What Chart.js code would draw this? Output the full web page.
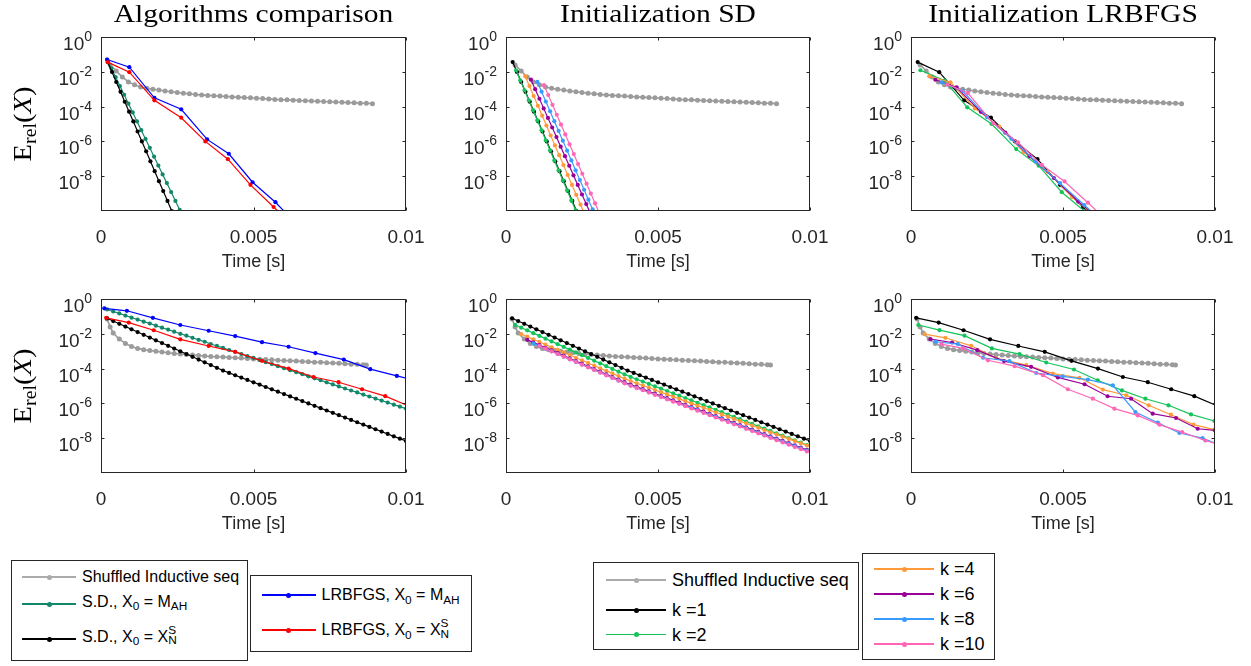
<!DOCTYPE html>
<html>
<head>
<meta charset="utf-8">
<title>Convergence comparison</title>
<script src="https://cdn.jsdelivr.net/npm/chart.js@4.4.1/dist/chart.umd.min.js"></script>
<style>
  html, body { margin: 0; padding: 0; background: #fff; }
  body { position: relative; width: 1251px; height: 666px; overflow: hidden;
         font-family: 'Liberation Sans', Arial, sans-serif; color: #000; }
  canvas { position: absolute; }
  .lg { position: absolute; border: 1px solid #262626; background: #fff; box-sizing: border-box; }
  .ln { position: absolute; height: 1.5px; }
  .dt { position: absolute; width: 5px; height: 5px; border-radius: 50%; }
  .tx { position: absolute; white-space: nowrap; line-height: 1; }
  .lo { position: relative; top: 0.32em; font-size: 0.74em; }
  .st { position: relative; display: inline-block; width: 0.62em; height: 1em; vertical-align: top; }
  .st .up { position: absolute; left: 0; top: -0.32em; font-size: 0.74em; }
  .st .dn { position: absolute; left: 0; top: 0.58em; font-size: 0.74em; }
</style>
</head>
<body>
<script>
// Six convergence panels (log error vs time) drawn with Chart.js,
// axes and labels drawn MATLAB-style by a small plugin.

const panelTitles = ['Algorithms comparison', 'Initialization SD', 'Initialization LRBFGS'];
const xTickValues = [0, 0.005, 0.01];
const xTickLabels = ['0', '0.005', '0.01'];
const yTickValues = [1, 1e-2, 1e-4, 1e-6, 1e-8];
const yTickExponents = ['0', '-2', '-4', '-6', '-8'];

// -------------------
// Shuffled inductive sequence (grey)
// -------------------
const greyTopTime = [0.0003,0.0005,0.0007,0.0009,0.0011,0.0013,0.0015,0.0017,0.0019,0.0021,0.0023,0.0025,0.0027,0.0029,0.0031,0.0033,0.0035,0.0037,0.0039,0.0041,0.0043,0.0045,0.0047,0.0049,0.0051,0.0053,0.0055,0.0057,0.0059,0.0061,0.0063,0.0065,0.0067,0.0069,0.0071,0.0073,0.0075,0.0077,0.0079,0.0081,0.0083,0.0085,0.0087,0.0089];
const greyTopErr = [2.5e-2,1.12e-2,5.0e-3,2.63e-3,1.78e-3,1.35e-3,1.12e-3,1.0e-3,8.9e-4,7.9e-4,7.1e-4,6.5e-4,5.9e-4,5.5e-4,5.0e-4,4.7e-4,4.4e-4,4.2e-4,4.0e-4,3.8e-4,3.6e-4,3.5e-4,3.3e-4,3.2e-4,3.0e-4,2.9e-4,2.75e-4,2.6e-4,2.5e-4,2.45e-4,2.35e-4,2.24e-4,2.19e-4,2.09e-4,2.04e-4,1.95e-4,1.9e-4,1.82e-4,1.78e-4,1.7e-4,1.66e-4,1.58e-4,1.55e-4,1.48e-4];
const greyBotTime = [0.0002,0.0003,0.0004,0.0006,0.0008,0.001,0.0012,0.0014,0.0016,0.0018,0.002,0.0022,0.0024,0.0026,0.0028,0.003,0.0032,0.0034,0.0036,0.0038,0.004,0.0042,0.0044,0.0046,0.0048,0.005,0.0052,0.0054,0.0056,0.0058,0.006,0.0062,0.0064,0.0066,0.0068,0.007,0.0072,0.0074,0.0076,0.0078,0.008,0.0082,0.0084,0.0086,0.0087];
const greyBotErr = [7.1e-2,2.5e-2,1.12e-2,5.0e-3,2.8e-3,1.86e-3,1.45e-3,1.23e-3,1.1e-3,9.8e-4,8.9e-4,8.1e-4,7.4e-4,6.9e-4,6.5e-4,6.0e-4,5.6e-4,5.25e-4,5.0e-4,4.8e-4,4.6e-4,4.4e-4,4.2e-4,4.0e-4,3.8e-4,3.6e-4,3.5e-4,3.3e-4,3.2e-4,3.0e-4,2.9e-4,2.8e-4,2.7e-4,2.6e-4,2.45e-4,2.35e-4,2.3e-4,2.2e-4,2.1e-4,2.0e-4,1.9e-4,1.8e-4,1.75e-4,1.65e-4,1.6e-4];

// -------------------
// Top row
// -------------------
const sdMahTopTime = [0.0002,0.00034,0.00048,0.00062,0.00076,0.0009,0.00104,0.00118,0.00132,0.00146,0.0016,0.00174,0.00188,0.00202,0.00216,0.0023,0.00244,0.00258,0.00272];
const sdMahTopErr = [5.1e-2,1.58e-2,4.9e-3,1.51e-3,4.8e-4,1.48e-4,4.6e-5,1.41e-5,4.4e-6,1.38e-6,4.3e-7,1.32e-7,4.1e-8,1.26e-8,4.0e-9,1.23e-9,3.8e-10,1.17e-10,3.6e-11];
// S.D. from X_N^S, also k = 1 of the SD initialization panel
const sdXnsTopTime = [0.00022,0.00036,0.0005,0.00064,0.00078,0.00092,0.00106,0.0012,0.00134,0.00148,0.00162,0.00176,0.0019,0.00204,0.00218,0.00232,0.00246];
const sdXnsTopErr = [3.6e-2,9.8e-3,2.6e-3,7.1e-4,1.9e-4,5.1e-5,1.4e-5,3.7e-6,1.0e-6,2.7e-7,7.2e-8,1.95e-8,5.2e-9,1.4e-9,3.8e-10,1.0e-10,2.8e-11];
const lbMahTopTime = [0.0002,0.00093,0.00175,0.00263,0.00348,0.00419,0.00497,0.00572,0.0065];
const lbMahTopErr = [5.1e-2,1.85e-2,3.2e-4,7.0e-5,1.3e-6,1.95e-7,4.5e-9,3.2e-10,1.2e-11];
// LRBFGS from X_N^S, also k = 1 of the LRBFGS initialization panel
const lbXnsTopTime = [0.00022,0.00093,0.00175,0.00263,0.00342,0.00416,0.0049,0.00566,0.0064];
const lbXnsTopErr = [3.6e-2,9.5e-3,2.3e-4,2.3e-5,1.0e-6,9.5e-8,3.2e-9,1.7e-10,1.0e-11];

const sdK2TopTime = [0.00033,0.00047,0.00061,0.00075,0.00089,0.00103,0.00117,0.00131,0.00145,0.00159,0.00173,0.00187,0.00201,0.00215,0.00229,0.00243];
const sdK2TopErr = [1.23e-2,3.24e-3,8.7e-4,2.29e-4,6.2e-5,1.62e-5,4.37e-6,1.15e-6,3.09e-7,8.1e-8,2.19e-8,5.75e-9,1.55e-9,4.07e-10,1.1e-10,2.9e-11];
const sdK4TopTime = [0.00063,0.00077,0.00091,0.00105,0.00119,0.00133,0.00147,0.00161,0.00175,0.00189,0.00203,0.00217,0.00231,0.00245,0.00259];
const sdK4TopErr = [5.6e-3,1.51e-3,4.07e-4,1.12e-4,3.02e-5,8.1e-6,2.19e-6,5.9e-7,1.62e-7,4.37e-8,1.17e-8,3.16e-9,8.5e-10,2.34e-10,6.3e-11];
const sdK6TopTime = [0.00082,0.00096,0.0011,0.00124,0.00138,0.00152,0.00166,0.0018,0.00194,0.00208,0.00222,0.00236,0.0025,0.00264,0.00278];
const sdK6TopErr = [3.55e-3,1.0e-3,2.82e-4,7.9e-5,2.24e-5,6.3e-6,1.78e-6,5.0e-7,1.41e-7,3.98e-8,1.12e-8,3.16e-9,8.9e-10,2.51e-10,7.1e-11];
const sdK8TopTime = [0.00103,0.00117,0.00131,0.00145,0.00159,0.00173,0.00187,0.00201,0.00215,0.00229,0.00243,0.00257,0.00271,0.00285,0.00299];
const sdK8TopErr = [2.63e-3,7.2e-4,1.95e-4,5.4e-5,1.45e-5,3.98e-6,1.1e-6,2.95e-7,8.1e-8,2.19e-8,6.0e-9,1.66e-9,4.47e-10,1.23e-10,3.3e-11];
const sdK10TopTime = [0.00125,0.00139,0.00153,0.00167,0.00181,0.00195,0.00209,0.00223,0.00237,0.00251,0.00265,0.00279,0.00293,0.00307];
const sdK10TopErr = [1.7e-3,4.57e-4,1.26e-4,3.39e-5,9.3e-6,2.51e-6,6.8e-7,1.86e-7,5.0e-8,1.38e-8,3.72e-9,1.0e-9,2.75e-10,7.4e-11];

const lbK2TopTime = [0.00031,0.0011,0.00185,0.00265,0.00346,0.0042,0.00496,0.0057,0.0065];
const lbK2TopErr = [1.23e-2,3.16e-3,9.1e-5,1.0e-5,3.6e-7,4.0e-8,1.2e-9,1.0e-10,5.0e-12];
const lbK4TopTime = [0.0006,0.0013,0.0021,0.0029,0.0037,0.0045,0.0053,0.0061];
const lbK4TopErr = [5.5e-3,2.5e-3,7.9e-5,7.1e-6,2.5e-7,1.8e-8,6.3e-10,4.5e-11];
const lbK6TopTime = [0.0008,0.0015,0.0023,0.0031,0.0039,0.0047,0.0055,0.0063];
const lbK6TopErr = [3.5e-3,1.26e-3,5.0e-5,3.2e-6,1.4e-7,7.9e-9,3.5e-10,2.5e-11];
const lbK8TopTime = [0.001,0.0017,0.0025,0.0033,0.0041,0.0049,0.0057,0.0065];
const lbK8TopErr = [2.5e-3,7.9e-4,2.5e-5,1.4e-6,7.1e-8,4.0e-9,2.2e-10,1.26e-11];
const lbK10TopTime = [0.0012,0.00187,0.0027,0.00352,0.0043,0.00505,0.00582,0.0066];
const lbK10TopErr = [1.86e-3,6.0e-4,1.12e-5,8.7e-7,4.5e-8,5.0e-9,3.0e-10,1.6e-11];

// -------------------
// Bottom row
// -------------------
const botEvenTime = [0.0002,0.0004,0.0006,0.0008,0.001,0.0012,0.0014,0.0016,0.0018,0.002,0.0022,0.0024,0.0026,0.0028,0.003,0.0032,0.0034,0.0036,0.0038,0.004,0.0042,0.0044,0.0046,0.0048,0.005,0.0052,0.0054,0.0056,0.0058,0.006,0.0062,0.0064,0.0066,0.0068,0.007,0.0072,0.0074,0.0076,0.0078,0.008,0.0082,0.0084,0.0086,0.0088,0.009,0.0092,0.0094,0.0096,0.0098,0.01];
const botOddTime = [0.0003,0.0005,0.0007,0.0009,0.0011,0.0013,0.0015,0.0017,0.0019,0.0021,0.0023,0.0025,0.0027,0.0029,0.0031,0.0033,0.0035,0.0037,0.0039,0.0041,0.0043,0.0045,0.0047,0.0049,0.0051,0.0053,0.0055,0.0057,0.0059,0.0061,0.0063,0.0065,0.0067,0.0069,0.0071,0.0073,0.0075,0.0077,0.0079,0.0081,0.0083,0.0085,0.0087,0.0089,0.0091,0.0093,0.0095,0.0097,0.0099];

const sdMahBotErr = [2.51e-1,1.91e-1,1.48e-1,1.12e-1,8.5e-2,6.6e-2,5.0e-2,3.9e-2,2.95e-2,2.24e-2,1.74e-2,1.32e-2,1.0e-2,7.8e-3,5.9e-3,4.5e-3,3.5e-3,2.6e-3,2.0e-3,1.55e-3,1.17e-3,9.1e-4,6.9e-4,5.2e-4,4.1e-4,3.1e-4,2.34e-4,1.82e-4,1.38e-4,1.05e-4,8.1e-5,6.2e-5,4.8e-5,3.6e-5,2.75e-5,2.14e-5,1.62e-5,1.23e-5,9.5e-6,7.2e-6,5.5e-6,4.3e-6,3.2e-6,2.5e-6,1.9e-6,1.45e-6,1.12e-6,8.5e-7,6.5e-7,5.0e-7];
// S.D. from X_N^S, also k = 1 of the SD initialization panel
const sdXnsBotErr = [7.76e-2,5.4e-2,3.75e-2,2.61e-2,1.81e-2,1.26e-2,8.75e-3,6.08e-3,4.23e-3,2.94e-3,2.04e-3,1.42e-3,9.86e-4,6.86e-4,4.76e-4,3.31e-4,2.3e-4,1.6e-4,1.11e-4,7.73e-5,5.66e-5,4.15e-5,3.04e-5,2.23e-5,1.63e-5,1.2e-5,8.77e-6,6.43e-6,4.71e-6,3.45e-6,2.53e-6,1.85e-6,1.36e-6,9.95e-7,7.29e-7,5.35e-7,3.92e-7,2.87e-7,2.1e-7,1.54e-7,1.13e-7,8.28e-8,6.07e-8,4.45e-8,3.26e-8,2.39e-8,1.75e-8,1.28e-8,9.4e-9,6.89e-9];
const lbMahBotTime = [0.00011,0.00085,0.0017,0.0026,0.00353,0.0044,0.00528,0.00615,0.00703,0.00796,0.00883,0.0097,0.0106];
const lbMahBotErr = [2.9e-1,2.1e-1,8.3e-2,3.2e-2,1.5e-2,7.4e-3,3.3e-3,1.8e-3,7.8e-4,3.3e-4,9.3e-5,3.8e-5,1.6e-5];
// LRBFGS from X_N^S, also k = 1 of the LRBFGS initialization panel
const lbXnsBotTime = [0.00017,0.00091,0.00173,0.0026,0.00353,0.0044,0.00528,0.00615,0.00697,0.00779,0.00856,0.00932,0.0101];
const lbXnsBotErr = [8.3e-2,4.4e-2,1.6e-2,4.8e-3,2.0e-3,9.2e-4,2.8e-4,1.0e-4,3.3e-5,1.65e-5,6.5e-6,2.6e-6,7.0e-7];

const sdK2BotErr = [3.24e-2,2.25e-2,1.57e-2,1.09e-2,7.57e-3,5.26e-3,3.66e-3,2.54e-3,1.77e-3,1.23e-3,8.53e-4,5.93e-4,4.12e-4,2.86e-4,1.99e-4,1.38e-4,9.62e-5,6.68e-5,4.65e-5,3.33e-5,2.44e-5,1.79e-5,1.31e-5,9.59e-6,7.03e-6,5.15e-6,3.78e-6,2.77e-6,2.03e-6,1.49e-6,1.09e-6,7.98e-7,5.85e-7,4.29e-7,3.14e-7,2.3e-7,1.69e-7,1.24e-7,9.06e-8,6.64e-8,4.86e-8,3.56e-8,2.61e-8,1.91e-8,1.4e-8,1.03e-8,7.53e-9,5.52e-9,4.05e-9];
const sdK4BotErr = [null,9.6e-3,6.8e-3,4.8e-3,3.4e-3,2.4e-3,1.69e-3,1.2e-3,8.5e-4,6.0e-4,4.2e-4,3.0e-4,2.11e-4,1.49e-4,1.05e-4,7.4e-5,5.3e-5,3.7e-5,2.63e-5,1.91e-5,1.43e-5,1.06e-5,7.9e-6,5.9e-6,4.4e-6,3.3e-6,2.44e-6,1.82e-6,1.36e-6,1.01e-6,7.5e-7,5.6e-7,4.2e-7,3.1e-7,2.32e-7,1.73e-7,1.29e-7,9.6e-8,7.2e-8,5.3e-8,4.0e-8,2.96e-8,2.2e-8,1.64e-8,1.22e-8,9.1e-9,6.8e-9,5.1e-9,3.8e-9];
const sdK6BotErr = [null,null,4.5e-3,3.2e-3,2.24e-3,1.58e-3,1.11e-3,7.8e-4,5.5e-4,3.9e-4,2.73e-4,1.92e-4,1.36e-4,9.5e-5,6.7e-5,4.7e-5,3.3e-5,2.34e-5,1.65e-5,1.2e-5,8.9e-6,6.6e-6,4.9e-6,3.6e-6,2.7e-6,2.0e-6,1.49e-6,1.1e-6,8.2e-7,6.1e-7,4.5e-7,3.4e-7,2.5e-7,1.85e-7,1.37e-7,1.02e-7,7.6e-8,5.6e-8,4.2e-8,3.1e-8,2.3e-8,1.71e-8,1.27e-8,9.4e-9,7.0e-9,5.2e-9,3.9e-9,2.86e-9,2.12e-9];
const sdK8BotErr = [null,null,null,2.8e-3,1.97e-3,1.39e-3,9.8e-4,6.9e-4,4.86e-4,3.43e-4,2.42e-4,1.7e-4,1.2e-4,8.5e-5,6.0e-5,4.2e-5,2.96e-5,2.08e-5,1.47e-5,1.07e-5,7.9e-6,5.9e-6,4.4e-6,3.25e-6,2.42e-6,1.79e-6,1.33e-6,9.9e-7,7.4e-7,5.5e-7,4.1e-7,3.0e-7,2.24e-7,1.67e-7,1.24e-7,9.2e-8,6.8e-8,5.1e-8,3.8e-8,2.81e-8,2.08e-8,1.55e-8,1.15e-8,8.6e-9,6.4e-9,4.7e-9,3.5e-9,2.6e-9,1.94e-9];
const sdK10BotErr = [null,null,null,null,1.99e-3,1.4e-3,9.8e-4,6.9e-4,4.85e-4,3.41e-4,2.4e-4,1.68e-4,1.18e-4,8.3e-5,5.85e-5,4.1e-5,2.88e-5,2.03e-5,1.43e-5,1.03e-5,7.6e-6,5.7e-6,4.2e-6,3.1e-6,2.3e-6,1.71e-6,1.26e-6,9.4e-7,6.9e-7,5.1e-7,3.8e-7,2.82e-7,2.09e-7,1.55e-7,1.15e-7,8.5e-8,6.3e-8,4.7e-8,3.46e-8,2.56e-8,1.9e-8,1.41e-8,1.04e-8,7.7e-9,5.7e-9,4.2e-9,3.1e-9,2.33e-9,1.73e-9];

const lbK2BotTime = [0.00024,0.00094,0.00176,0.00266,0.00357,0.00445,0.00536,0.00614,0.00694,0.00771,0.00847,0.00921,0.00998];
const lbK2BotErr = [3.2e-2,1.62e-2,7.8e-3,1.45e-3,6.8e-4,2.24e-4,8.9e-5,2.14e-5,5.6e-6,1.86e-6,7.8e-7,2.34e-7,9.8e-8];
const lbK4BotTime = [0.00045,0.00113,0.00198,0.0028,0.00379,0.00467,0.00554,0.00631,0.00708,0.00782,0.00855,0.00929,0.00998];
const lbK4BotErr = [9.5e-3,5.9e-3,2.04e-3,4.0e-4,1.58e-4,5.2e-5,2.95e-5,6.2e-6,2.95e-6,7.8e-7,2.24e-7,6.0e-8,3.1e-8];
const lbK6BotTime = [0.00064,0.00135,0.00218,0.00306,0.00395,0.00483,0.00571,0.00647,0.00724,0.00795,0.00872,0.00943,0.01];
const lbK6BotErr = [4.9e-3,3.16e-3,1.15e-3,2.7e-4,1.26e-4,3.1e-5,1.26e-5,2.57e-6,1.86e-6,2.57e-7,1.45e-7,3.5e-8,2.8e-8];
const lbK8BotTime = [0.00081,0.00154,0.00237,0.00324,0.00412,0.00499,0.00582,0.00664,0.00738,0.00812,0.00883,0.00959,0.0103];
const lbK8BotErr = [3.5e-3,2.57e-3,4.2e-4,2.7e-4,5.6e-5,3.6e-5,2.34e-5,1.1e-5,3.2e-7,7.8e-8,2.0e-8,1.02e-8,3.2e-9];
const lbK10BotTime = [0.001,0.00171,0.00253,0.00341,0.00434,0.00516,0.00598,0.00669,0.00746,0.00817,0.00892,0.00968,0.0104];
const lbK10BotErr = [2.57e-3,1.45e-3,3.0e-4,1.38e-4,4.2e-5,6.5e-6,1.86e-6,5.0e-7,2.04e-7,6.0e-8,2.24e-8,7.4e-9,3.2e-9];

// -------------------
// Legends
// -------------------
const legendAlgoLeft = ['Shuffled Inductive seq', 'S.D., X<span class="lo">0</span> = M<span class="lo">AH</span>',
  'S.D., X<span class="lo">0</span> = X<span class="st"><span class="up">S</span><span class="dn">N</span></span>'];
const legendAlgoRight = ['LRBFGS, X<span class="lo">0</span> = M<span class="lo">AH</span>',
  'LRBFGS, X<span class="lo">0</span> = X<span class="st"><span class="up">S</span><span class="dn">N</span></span>'];
const legendInitLeft = ['Shuffled Inductive seq', 'k =1', 'k =2'];
const legendInitRight = ['k =4', 'k =6', 'k =8', 'k =10'];

const GREY = '#9b9b9b', GREY_LEG = '#ababab', TEAL = '#12876a', BLACK = '#000000', BLUE = '#0000ff', RED = '#ff0000';
const K2 = '#14c45a', K4 = '#ff9a3a', K6 = '#990099', K8 = '#3a9bff', K10 = '#ff66b6';
const AXIS = '#262626';
const SANS = "'Liberation Sans', Arial, sans-serif";
const SERIF = "'Liberation Serif', 'Times New Roman', serif";

function points(times, errs) {
  const pts = [];
  times.forEach((t, i) => {
    if (errs[i] !== null && errs[i] !== undefined) pts.push({ x: t, y: errs[i] });
  });
  return pts;
}

function line(times, errs, color, extra) {
  return Object.assign({
    data: points(times, errs),
    borderColor: color,
    backgroundColor: color,
    pointBackgroundColor: color,
    borderWidth: 1.2,
    pointRadius: 2.1,
    pointBorderWidth: 0,
    pointHoverRadius: 0,
    tension: 0,
    fill: false
  }, extra || {});
}

const greyStyle = { borderWidth: 1.6, pointRadius: 2.5 };

function stretched(ctx, text, x, y, sx) {
  ctx.save();
  ctx.translate(x, y);
  ctx.scale(sx, 1);
  ctx.fillText(text, 0, 0);
  ctx.restore();
}

function drawYLabel(ctx, cx, cy) {
  const parts = [
    { t: 'E', f: '26px ' + SERIF, dy: 0 },
    { t: 'rel', f: '18px ' + SERIF, dy: 5 },
    { t: '(', f: '26px ' + SERIF, dy: 0 },
    { t: 'X', f: 'italic 26px ' + SERIF, dy: 0 },
    { t: ')', f: '26px ' + SERIF, dy: 0 }
  ];
  ctx.save();
  ctx.translate(cx, cy);
  ctx.rotate(-Math.PI / 2);
  ctx.scale(1.1, 1);
  ctx.textAlign = 'left';
  let total = 0;
  parts.forEach(p => { ctx.font = p.f; p.w = ctx.measureText(p.t).width; total += p.w; });
  let x = -total / 2;
  parts.forEach(p => { ctx.font = p.f; ctx.fillText(p.t, x, 9 + p.dy); x += p.w; });
  ctx.restore();
}

// MATLAB-like box, inward ticks, tick labels, title and axis labels
const matlabAxes = {
  id: 'matlabAxes',
  afterDraw(chart, args, opts) {
    const ctx = chart.ctx;
    const a = chart.chartArea;
    const xs = chart.scales.x, ys = chart.scales.y;
    const L = Math.round(a.left) + 0.5, R = Math.round(a.right) - 0.5;
    const T = Math.round(a.top) + 0.5, B = Math.round(a.bottom) - 0.5;
    ctx.save();
    ctx.strokeStyle = AXIS;
    ctx.lineWidth = 1;
    ctx.strokeRect(L, T, R - L, B - T);
    ctx.beginPath();
    yTickValues.forEach(v => {
      const py = Math.round(ys.getPixelForValue(v)) + 0.5;
      ctx.moveTo(L, py); ctx.lineTo(L + 3, py);
      ctx.moveTo(R, py); ctx.lineTo(R - 3, py);
    });
    xTickValues.forEach(v => {
      const px = Math.round(xs.getPixelForValue(v)) + 0.5;
      ctx.moveTo(px, B); ctx.lineTo(px, B - 3);
      ctx.moveTo(px, T); ctx.lineTo(px, T + 3);
    });
    ctx.stroke();

    ctx.fillStyle = AXIS;
    ctx.textBaseline = 'alphabetic';
    ctx.textAlign = 'center';
    ctx.font = '19px ' + SANS;
    xTickValues.forEach((v, i) => ctx.fillText(xTickLabels[i], xs.getPixelForValue(v), a.bottom + 32));
    ctx.font = '18px ' + SANS;
    ctx.fillText('Time [s]', (a.left + a.right) / 2, a.bottom + 56);

    ctx.textAlign = 'right';
    yTickValues.forEach((v, i) => {
      const py = ys.getPixelForValue(v);
      ctx.font = '14px ' + SANS;
      const ew = ctx.measureText(yTickExponents[i]).width;
      ctx.fillText(yTickExponents[i], a.left - 9, py + 4);
      ctx.font = '19px ' + SANS;
      ctx.fillText('10', a.left - 9 - ew, py + 13);
    });

    ctx.fillStyle = '#000';
    if (opts.title) {
      ctx.textAlign = 'center';
      ctx.font = '25px ' + SERIF;
      stretched(ctx, opts.title, (a.left + a.right) / 2, a.top - 15, 1.18);
    }
    if (opts.yLabel) drawYLabel(ctx, a.left - 79, (a.top + a.bottom) / 2);
    ctx.restore();
  }
};

function makePanel(left, top, width, title, yLabel, datasets) {
  const padL = 100, padT = 38, padR = 20, padB = 62, plotH = 174;
  const cv = document.createElement('canvas');
  const W = padL + width + padR, H = padT + plotH + padB;
  cv.width = W; cv.height = H;
  cv.style.left = (left - padL) + 'px';
  cv.style.top = (top - padT) + 'px';
  cv.style.width = W + 'px';
  cv.style.height = H + 'px';
  document.body.appendChild(cv);
  new Chart(cv, {
    type: 'line',
    data: { datasets: datasets.slice().reverse() },   // first listed is drawn underneath
    options: {
      responsive: false,
      animation: false,
      events: [],
      layout: { padding: { left: padL, top: padT, right: padR, bottom: padB } },
      plugins: {
        legend: { display: false },
        tooltip: { enabled: false },
        matlabAxes: { title: title, yLabel: yLabel }
      },
      scales: {
        x: { type: 'linear', min: 0, max: 0.01, display: false },
        y: { type: 'logarithmic', min: 1e-10, max: 1, display: false }
      }
    },
    plugins: [matlabAxes]
  });
}

const colLeft = [101, 506, 911];
const colWidth = [305, 304, 304];
const rowTop = [37, 299];

makePanel(colLeft[0], rowTop[0], colWidth[0], panelTitles[0], true, [
  line(greyTopTime, greyTopErr, GREY, greyStyle),
  line(sdMahTopTime, sdMahTopErr, TEAL),
  line(sdXnsTopTime, sdXnsTopErr, BLACK),
  line(lbMahTopTime, lbMahTopErr, BLUE),
  line(lbXnsTopTime, lbXnsTopErr, RED)
]);
makePanel(colLeft[1], rowTop[0], colWidth[1], panelTitles[1], false, [
  line(greyTopTime, greyTopErr, GREY, greyStyle),
  line(sdXnsTopTime, sdXnsTopErr, BLACK),
  line(sdK2TopTime, sdK2TopErr, K2),
  line(sdK4TopTime, sdK4TopErr, K4),
  line(sdK6TopTime, sdK6TopErr, K6),
  line(sdK8TopTime, sdK8TopErr, K8),
  line(sdK10TopTime, sdK10TopErr, K10)
]);
makePanel(colLeft[2], rowTop[0], colWidth[2], panelTitles[2], false, [
  line(greyTopTime, greyTopErr, GREY, greyStyle),
  line(lbXnsTopTime, lbXnsTopErr, BLACK),
  line(lbK2TopTime, lbK2TopErr, K2),
  line(lbK4TopTime, lbK4TopErr, K4),
  line(lbK6TopTime, lbK6TopErr, K6),
  line(lbK8TopTime, lbK8TopErr, K8),
  line(lbK10TopTime, lbK10TopErr, K10)
]);
makePanel(colLeft[0], rowTop[1], colWidth[0], null, true, [
  line(greyBotTime, greyBotErr, GREY, greyStyle),
  line(botEvenTime, sdMahBotErr, TEAL),
  line(botEvenTime, sdXnsBotErr, BLACK),
  line(lbMahBotTime, lbMahBotErr, BLUE),
  line(lbXnsBotTime, lbXnsBotErr, RED)
]);
makePanel(colLeft[1], rowTop[1], colWidth[1], null, false, [
  line(greyBotTime, greyBotErr, GREY, greyStyle),
  line(botEvenTime, sdXnsBotErr, BLACK),
  line(botOddTime, sdK2BotErr, K2),
  line(botOddTime, sdK4BotErr, K4),
  line(botOddTime, sdK6BotErr, K6),
  line(botOddTime, sdK8BotErr, K8),
  line(botOddTime, sdK10BotErr, K10)
]);
makePanel(colLeft[2], rowTop[1], colWidth[2], null, false, [
  line(greyBotTime, greyBotErr, GREY, greyStyle),
  line(lbXnsBotTime, lbXnsBotErr, BLACK),
  line(lbK2BotTime, lbK2BotErr, K2),
  line(lbK4BotTime, lbK4BotErr, K4),
  line(lbK6BotTime, lbK6BotErr, K6),
  line(lbK8BotTime, lbK8BotErr, K8),
  line(lbK10BotTime, lbK10BotErr, K10)
]);

function buildLegend(geo, labels, colors) {
  const box = document.createElement('div');
  box.className = 'lg';
  Object.assign(box.style, { left: geo.x + 'px', top: geo.y + 'px', width: geo.w + 'px', height: geo.h + 'px', fontSize: geo.fs + 'px' });
  labels.forEach((html, i) => {
    const y = geo.rows[i];
    const ln = document.createElement('div');
    ln.className = 'ln';
    Object.assign(ln.style, { left: geo.lx + 'px', width: geo.lw + 'px', top: (y - 0.75) + 'px', background: colors[i] });
    const dt = document.createElement('div');
    dt.className = 'dt';
    Object.assign(dt.style, { left: (geo.lx + geo.lw / 2 - 2.5) + 'px', top: (y - 2.5) + 'px', background: colors[i] });
    const tx = document.createElement('div');
    tx.className = 'tx';
    tx.innerHTML = html;
    const shift = geo.shift ? geo.shift[i] : 0;
    Object.assign(tx.style, { left: geo.tx + 'px', top: (y - geo.fs * 0.5 - shift) + 'px' });
    box.append(ln, dt, tx);
  });
  document.body.appendChild(box);
}

buildLegend({ x: 11, y: 560, w: 237, h: 101, fs: 16, rows: [16, 43, 78], lx: 10, lw: 54, tx: 70, shift: [0, 2.5, 2.5] },
  legendAlgoLeft, [GREY_LEG, TEAL, BLACK]);
buildLegend({ x: 250, y: 575, w: 222, h: 77, fs: 16, rows: [19, 54], lx: 10.5, lw: 54, tx: 70.5, shift: [0, 0] },
  legendAlgoRight, [BLUE, RED]);
buildLegend({ x: 593, y: 562, w: 266, h: 88, fs: 18, rows: [17, 47, 71.5], lx: 12, lw: 60, tx: 78 },
  legendInitLeft, [GREY_LEG, BLACK, K2]);
buildLegend({ x: 862, y: 553, w: 133, h: 107, fs: 18, rows: [15, 40, 65, 90], lx: 11, lw: 60, tx: 77 },
  legendInitRight, [K4, K6, K8, K10]);
</script>
</body>
</html>
